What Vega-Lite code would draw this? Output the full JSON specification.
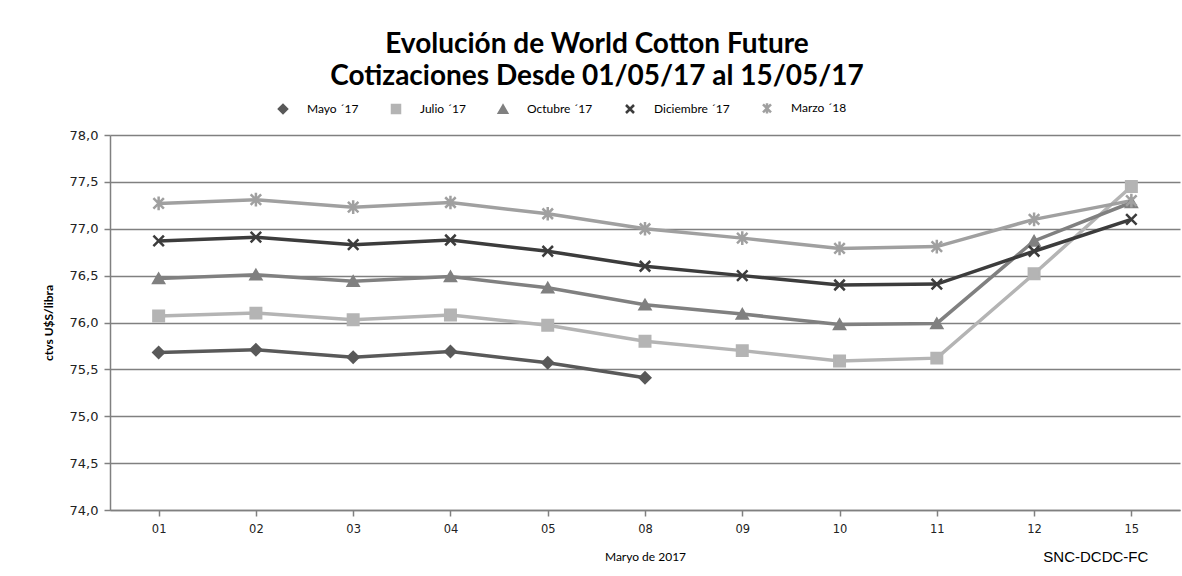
{
  "$schema": "https://vega.github.io/schema/vega-lite/v6.json",
  "width": 1070,
  "height": 375,
  "autosize": {"type": "none"},
  "padding": {"left": 110, "top": 135, "right": 2, "bottom": 66},
  "background": "white",
  "config": {
    "locale": {"number": {"decimal": ",", "thousands": ".", "grouping": [3], "currency": ["$", ""]}},
    "view": {"stroke": null},
    "font": "DejaVu Sans"
  },
  "title": {
    "text": ["Evolución de World Cotton Future", "Cotizaciones Desde 01/05/17 al 15/05/17"],
    "font": "Lato",
    "fontSize": 28,
    "fontWeight": "bold",
    "lineHeight": 32,
    "color": "#000000",
    "anchor": "middle",
    "dx": -48,
    "offset": 11
  },
  "datasets": {
    "series": [
      {"dia": "01", "serie": "Mayo ´17", "valor": 75.68},
      {"dia": "02", "serie": "Mayo ´17", "valor": 75.71},
      {"dia": "03", "serie": "Mayo ´17", "valor": 75.63},
      {"dia": "04", "serie": "Mayo ´17", "valor": 75.69},
      {"dia": "05", "serie": "Mayo ´17", "valor": 75.57},
      {"dia": "08", "serie": "Mayo ´17", "valor": 75.41},
      {"dia": "01", "serie": "Julio ´17", "valor": 76.07},
      {"dia": "02", "serie": "Julio ´17", "valor": 76.10},
      {"dia": "03", "serie": "Julio ´17", "valor": 76.03},
      {"dia": "04", "serie": "Julio ´17", "valor": 76.08},
      {"dia": "05", "serie": "Julio ´17", "valor": 75.97},
      {"dia": "08", "serie": "Julio ´17", "valor": 75.80},
      {"dia": "09", "serie": "Julio ´17", "valor": 75.70},
      {"dia": "10", "serie": "Julio ´17", "valor": 75.59},
      {"dia": "11", "serie": "Julio ´17", "valor": 75.62},
      {"dia": "12", "serie": "Julio ´17", "valor": 76.52},
      {"dia": "15", "serie": "Julio ´17", "valor": 77.45},
      {"dia": "01", "serie": "Octubre ´17", "valor": 76.47},
      {"dia": "02", "serie": "Octubre ´17", "valor": 76.51},
      {"dia": "03", "serie": "Octubre ´17", "valor": 76.44},
      {"dia": "04", "serie": "Octubre ´17", "valor": 76.49},
      {"dia": "05", "serie": "Octubre ´17", "valor": 76.37},
      {"dia": "08", "serie": "Octubre ´17", "valor": 76.19},
      {"dia": "09", "serie": "Octubre ´17", "valor": 76.09},
      {"dia": "10", "serie": "Octubre ´17", "valor": 75.98},
      {"dia": "11", "serie": "Octubre ´17", "valor": 75.99},
      {"dia": "12", "serie": "Octubre ´17", "valor": 76.87},
      {"dia": "15", "serie": "Octubre ´17", "valor": 77.28},
      {"dia": "01", "serie": "Diciembre ´17", "valor": 76.87},
      {"dia": "02", "serie": "Diciembre ´17", "valor": 76.91},
      {"dia": "03", "serie": "Diciembre ´17", "valor": 76.83},
      {"dia": "04", "serie": "Diciembre ´17", "valor": 76.88},
      {"dia": "05", "serie": "Diciembre ´17", "valor": 76.76},
      {"dia": "08", "serie": "Diciembre ´17", "valor": 76.60},
      {"dia": "09", "serie": "Diciembre ´17", "valor": 76.50},
      {"dia": "10", "serie": "Diciembre ´17", "valor": 76.40},
      {"dia": "11", "serie": "Diciembre ´17", "valor": 76.41},
      {"dia": "12", "serie": "Diciembre ´17", "valor": 76.76},
      {"dia": "15", "serie": "Diciembre ´17", "valor": 77.10},
      {"dia": "01", "serie": "Marzo ´18", "valor": 77.27},
      {"dia": "02", "serie": "Marzo ´18", "valor": 77.31},
      {"dia": "03", "serie": "Marzo ´18", "valor": 77.23},
      {"dia": "04", "serie": "Marzo ´18", "valor": 77.28},
      {"dia": "05", "serie": "Marzo ´18", "valor": 77.16},
      {"dia": "08", "serie": "Marzo ´18", "valor": 77.00},
      {"dia": "09", "serie": "Marzo ´18", "valor": 76.90},
      {"dia": "10", "serie": "Marzo ´18", "valor": 76.79},
      {"dia": "11", "serie": "Marzo ´18", "valor": 76.81},
      {"dia": "12", "serie": "Marzo ´18", "valor": 77.10},
      {"dia": "15", "serie": "Marzo ´18", "valor": 77.30}
    ],
    "nota": [{"texto": "SNC-DCDC-FC", "dia": "15", "valor": 73.5}]
  },
  "encoding": {
    "x": {
      "field": "dia", "type": "ordinal",
      "scale": {"paddingInner": 0, "paddingOuter": 0},
      "axis": {
        "title": "Maryo de 2017",
        "titleFont": "Lato", "titleFontSize": 12, "titleFontWeight": "normal", "titleColor": "#000",
        "titlePadding": 17,
        "labelAngle": 0, "labelFont": "DejaVu Sans", "labelFontSize": 11.5, "labelColor": "#222",
        "labelPadding": 7,
        "bandPosition": 0, "tickSize": 6, "tickColor": "#808080", "tickWidth": 1.5,
        "domainColor": "#808080", "domainWidth": 1.5, "grid": false
      }
    },
    "y": {
      "field": "valor", "type": "quantitative",
      "scale": {"domain": [74, 78], "nice": false, "zero": false},
      "axis": {
        "title": "ctvs U$S/libra",
        "titleFont": "Lato", "titleFontSize": 12, "titleFontWeight": "bold", "titleColor": "#000",
        "titlePadding": 14,
        "format": ".1f", "values": [74, 74.5, 75, 75.5, 76, 76.5, 77, 77.5, 78],
        "labelFont": "DejaVu Sans", "labelFontSize": 13, "labelColor": "#222", "labelPadding": 6,
        "tickSize": 6, "tickColor": "#808080", "tickWidth": 1.5,
        "domainColor": "#808080", "domainWidth": 1.5,
        "grid": true, "gridColor": "#808080", "gridWidth": 1.5
      }
    }
  },
  "layer": [
    {
      "data": {"name": "series"},
      "mark": {"type": "line", "strokeWidth": 3.5},
      "encoding": {
        "color": {
          "field": "serie", "type": "nominal",
          "scale": {
            "domain": ["Mayo ´17", "Julio ´17", "Octubre ´17", "Diciembre ´17", "Marzo ´18"],
            "range": ["#595959", "#b4b4b4", "#808080", "#3c3c3c", "#a0a0a0"]
          },
          "legend": {
            "title": null, "orient": "none", "direction": "horizontal",
            "legendX": 167, "legendY": -33,
            "labelFont": "Lato", "labelFontSize": 12, "labelColor": "#000",
            "labelOffset": 18, "columnPadding": 28, "symbolSize": 64, "symbolStrokeWidth": 2.5,
            "encode": {
              "symbols": {
                "update": {
                  "shape": {"signal": "datum.value === 'Mayo ´17' ? 'M-5,0L5,0M-1,0L0,-1L1,0L0,1Z' : datum.value === 'Julio ´17' ? 'M-5,0L5,0M-1,-1L1,-1L1,1L-1,1Z' : datum.value === 'Octubre ´17' ? 'M-5,0L5,0M-1,0.9L0,-0.9L1,0.9Z' : datum.value === 'Diciembre ´17' ? 'M-5,0L5,0M-1,-1L1,1M-1,1L1,-1' : 'M-5,0L5,0M-1,-1L1,1M-1,1L1,-1M0,-1.3L0,1.3'"},
                  "fill": {"signal": "datum.value === 'Mayo ´17' ? '#595959' : datum.value === 'Julio ´17' ? '#b4b4b4' : datum.value === 'Octubre ´17' ? '#808080' : datum.value === 'Diciembre ´17' ? '#3c3c3c' : '#a0a0a0'"},
                  "stroke": {"signal": "datum.value === 'Mayo ´17' ? '#595959' : datum.value === 'Julio ´17' ? '#b4b4b4' : datum.value === 'Octubre ´17' ? '#808080' : datum.value === 'Diciembre ´17' ? '#3c3c3c' : '#a0a0a0'"}
                }
              }
            }
          }
        }
      }
    },
    {
      "data": {"name": "series"},
      "mark": {"type": "point", "filled": true, "size": 110, "strokeWidth": 2.5, "opacity": 1},
      "encoding": {
        "color": {"field": "serie", "type": "nominal"},
        "stroke": {"field": "serie", "type": "nominal", "legend": null,
          "scale": {
            "domain": ["Mayo ´17", "Julio ´17", "Octubre ´17", "Diciembre ´17", "Marzo ´18"],
            "range": ["#595959", "#b4b4b4", "#808080", "#3c3c3c", "#a0a0a0"]
          }},
        "shape": {
          "field": "serie", "type": "nominal",
          "scale": {
            "domain": ["Mayo ´17", "Julio ´17", "Octubre ´17", "Diciembre ´17", "Marzo ´18"],
            "range": ["diamond", "square", "triangle-up", "M-1,-1L1,1M-1,1L1,-1", "M-1,-1L1,1M-1,1L1,-1M0,-1.3L0,1.3"]
          },
          "legend": null
        }
      }
    },
    {
      "data": {"name": "nota"},
      "mark": {"type": "text", "font": "Liberation Sans", "fontSize": 15, "align": "right", "dx": 17, "color": "#000"},
      "encoding": {
        "text": {"field": "texto"}
      }
    }
  ]
}
